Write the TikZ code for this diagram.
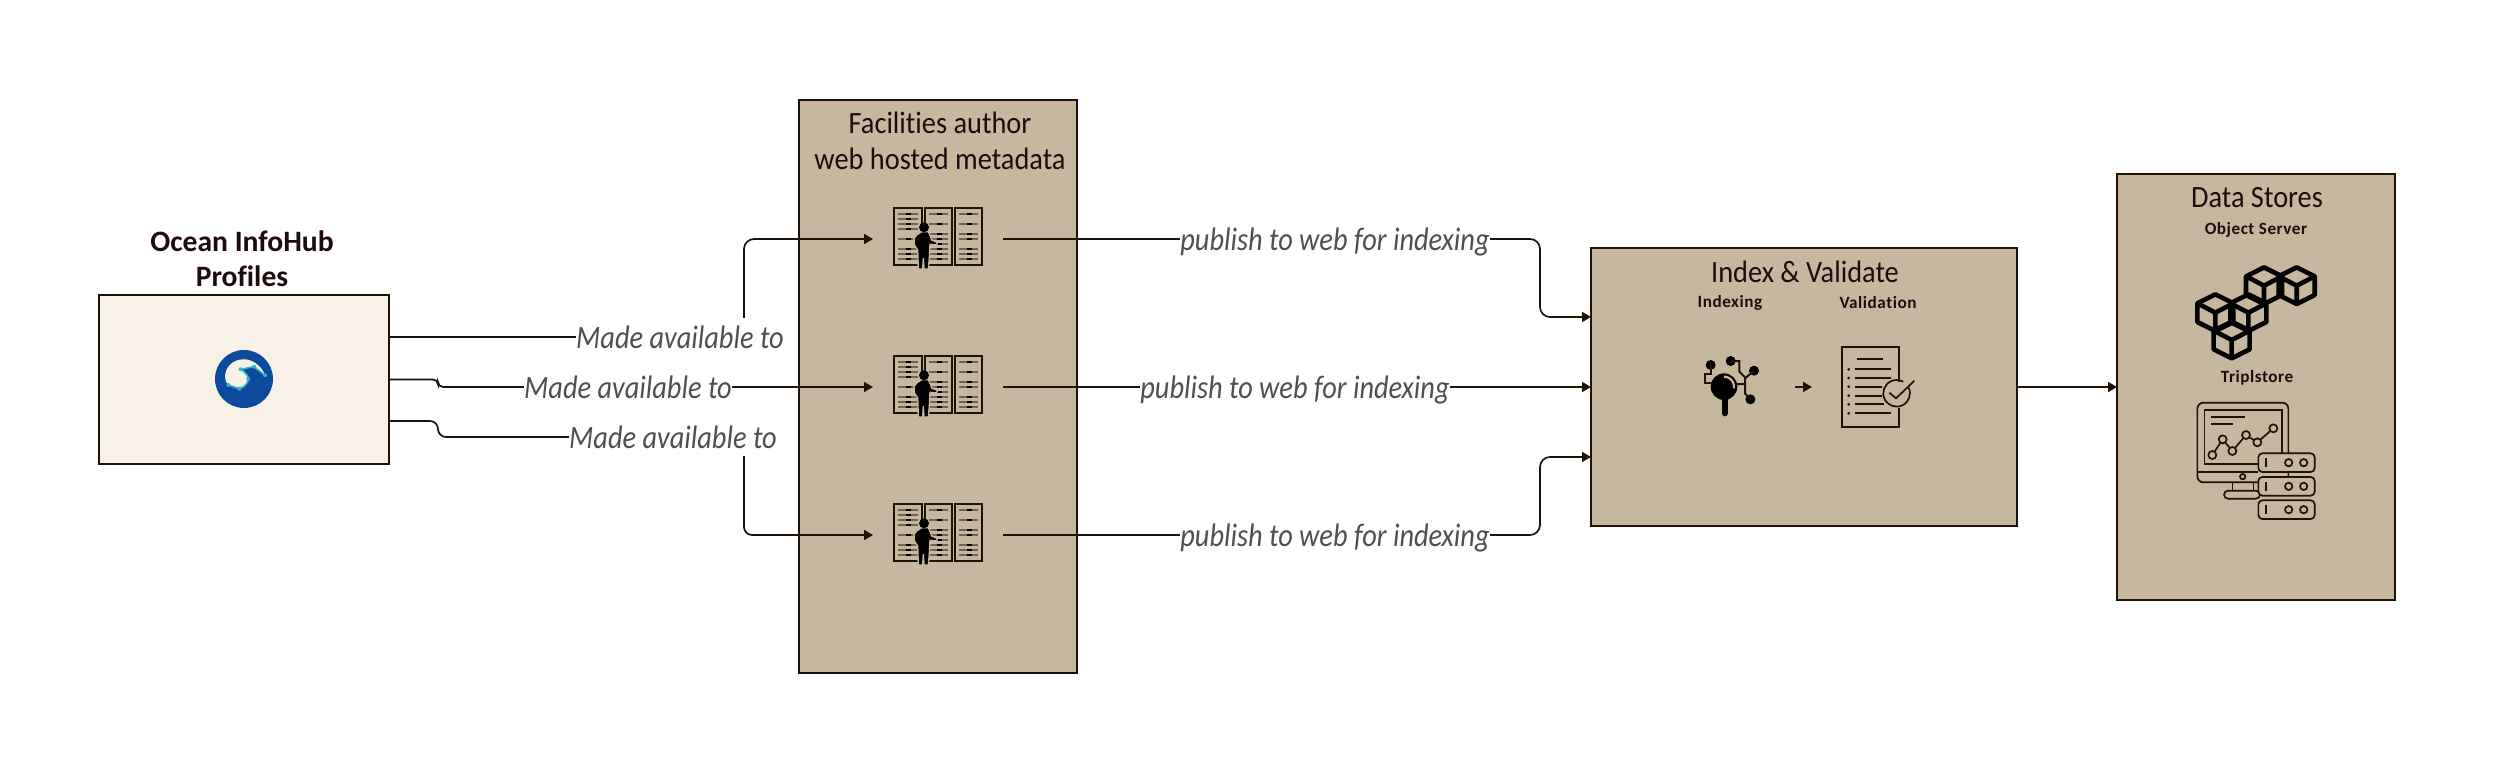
\documentclass[tikz,border=0pt]{standalone}
\usepackage{fontspec}
\setmainfont{Carlito}[Ligatures=NoCommon]
\usetikzlibrary{arrows.meta,calc}
\definecolor{ink}{HTML}{1F1206}
\definecolor{tan}{HTML}{C8B79F}
\definecolor{cream}{HTML}{F8F1E7}
\definecolor{labelgray}{HTML}{4F4F4F}
\definecolor{txt}{HTML}{1E0C0C}
\definecolor{oceanblue}{HTML}{0D4A9B}
\definecolor{oceanteal}{HTML}{2FB5C8}
\definecolor{rowgray}{HTML}{6F6556}
\newfontfamily\boldtrack[LetterSpace=3,Ligatures=NoCommon]{Carlito Bold}
\newfontfamily\labelfont[FakeStretch=0.87,Ligatures=NoCommon]{Carlito}
\newfontfamily\titlefont[FakeStretch=0.915,Ligatures=NoCommon]{Carlito}
\tikzset{
  box/.style={draw=ink,line width=1pt,fill=tan,inner sep=0pt,outer sep=0pt},
  edge/.style={draw=ink,line width=0.85pt,rounded corners=5pt,-{Triangle[length=4.5pt,width=5pt]}},
  edgelabel/.style={fill=white,inner sep=0pt,text height=15.25pt,text depth=3.75pt,text=labelgray,font=\fontsize{16.3}{18}\labelfont\itshape},
  boxtitle/.style={inner sep=0pt,text=txt,font=\fontsize{15.5}{18}\titlefont,align=center},
  subtitle/.style={inner sep=0pt,text=txt,font=\fontsize{8.6}{11}\boldtrack},
  iconslot/.style={inner sep=0pt,outer sep=0pt},
  icon/.style={draw=ink,line width=0.85pt},
  rackicon/.pic={
    \begin{scope}[x=0.16667pt,y=-0.16667pt,shift={(-174,-132)}]
      \foreach \a/\b/\rows in {42/125/{57,72,87,102,132,162,177,192},135/215/{57,87,117,132,147,162,177,192},225/305/{57,87,117,132,162,177,192}}{
        \draw[draw=ink,line width=0.85pt] (\a,40) rectangle (\b,210);
        \foreach \r in \rows {
          \draw[rowgray,line width=1.1pt] (\a+12,\r) -- (\b-10,\r);
          \draw[black,line width=1.2pt] (\a+36,\r) -- (\a+50,\r);
        }
      }
      \draw[fill=black,draw=tan,line width=0.7pt,line join=round]
        (110,120) -- (125,110) -- (145,110) -- (152,125) -- (155,135) -- (172,142) -- (170,150) -- (150,148) -- (148,190) -- (145,222) -- (132,222) -- (130,190) -- (128,222) -- (115,222) -- (113,165) -- (103,150) -- (102,130) -- cycle;
      \fill[black] (132,97) circle[radius=15];
    \end{scope}
  }
}
\newcommand{\cubeicon}[2]{%
  \draw[black,line width=2.3pt,line join=round] (#1,#2-55) -- (#1+54,#2-28) -- (#1+54,#2+28) -- (#1,#2+55) -- (#1-54,#2+28) -- (#1-54,#2-28) -- cycle
    (#1-54,#2-28) -- (#1,#2) -- (#1+54,#2-28) (#1,#2) -- (#1,#2+55);}
\begin{document}
\begin{tikzpicture}[x=0.5pt,y=-0.5pt]
\useasboundingbox (0,0) rectangle (2495,774);
\fill[white] (0,0) rectangle (2495,774);

% boxes
\node[box,fill=cream,minimum width=145pt,minimum height=84.5pt] (profile) at (244,379.5) {};
\node[box,minimum width=139pt,minimum height=286.5pt] (facilities) at (938,386.5) {};
\node[box,minimum width=213pt,minimum height=139pt] (index) at (1804,387) {};
\node[box,minimum width=139pt,minimum height=213pt] (stores) at (2256,387) {};

% titles
\node[inner sep=0pt,text=txt,font=\fontsize{14.8}{17.5}\selectfont\bfseries,align=center] (profiletitle) at (242,258.5) {Ocean InfoHub\\Profiles};
\node[boxtitle] (factitle) at (940,141) {Facilities author\\web hosted metadata};
\node[boxtitle] (indextitle) at (1805,272) {Index \& Validate};
\node[boxtitle] (storetitle) at (2257,198) {Data Stores};
\node[subtitle] (indexing) at (1730,303) {Indexing};
\node[subtitle] (validation) at (1878,303) {Validation};
\node[subtitle] (objserver) at (2256,229.5) {Object Server};
\node[subtitle] (triplstore) at (2257,377.5) {Triplstore};

% slots that carry the icons
\node[iconslot,minimum width=65pt,minimum height=10pt] (srvA) at (938,239) {};
\node[iconslot,minimum width=65pt,minimum height=10pt] (srvB) at (938,387) {};
\node[iconslot,minimum width=65pt,minimum height=10pt] (srvC) at (938,535) {};
\node[iconslot,minimum width=47.5pt,minimum height=10pt] (idxicon) at (1747.5,387) {};
\node[iconslot,minimum width=50pt,minimum height=10pt] (valicon) at (1862,387) {};

% connectors
\coordinate (pa) at ($(profile.east)+(0,-42.5)$);
\coordinate (pc) at ($(profile.east)+(0,41.5)$);
\coordinate (ia) at ($(index.west)+(0,-70)$);
\coordinate (ic) at ($(index.west)+(0,70)$);
\draw[edge] (pa) -- (744,337) -- (744,239) -- (srvA.west);
\draw[edge,rounded corners=2.5pt] (profile.east) -- (438,379.5) -- (438,387) -- (srvB.west);
\draw[edge,rounded corners=4pt] (pc) -- (438,421) -- (438,437) -- (744,437) -- (744,535) -- (srvC.west);
\draw[edge] (srvA.east) -- (1540,239) -- (1540,317) -- (ia);
\draw[edge] (srvB.east) -- (index.west);
\draw[edge] (srvC.east) -- (1540,535) -- (1540,457) -- (ic);
\draw[edge] (index.east) -- (stores.west);
\draw[edge] (idxicon.east) -- (valicon.west);

% edge labels
\node[edgelabel] (la) at (680,337) {Made available to};
\node[edgelabel] (lb) at (628,387) {Made available to};
\node[edgelabel] (lc) at (673,437) {Made available to};
\node[edgelabel] (ld) at (1335,239) {publish to web for indexing};
\node[edgelabel] (le) at (1295,387) {publish to web for indexing};
\node[edgelabel] (lf) at (1335,535) {publish to web for indexing};

% rack icons
\pic at (srvA) {rackicon};
\pic at (srvB) {rackicon};
\pic at (srvC) {rackicon};

% ocean logo
\fill[oceanblue] (244,379) circle[radius=29];
\fill[cream] (265,375.3) .. controls (262,366) and (252,359) .. (243.3,359.3) .. controls (232,359.5) and (225,368) .. (225,376.7) .. controls (225,380) and (226,383) .. (228.3,385) -- (239.3,388.7) .. controls (245,387) and (248,383) .. (248.3,379) .. controls (248,375) and (245,372) .. (240.7,369.3) -- (254,366.7) -- cycle;
\draw[oceanteal,line width=0.8pt] (228.3,385) -- (239.3,388.7) .. controls (245,387) and (248,383) .. (248.3,379) .. controls (248,375) and (245,372) .. (240.7,369.3) -- (254,366.7) -- (265,375.3);
\foreach \p in {(265,375.3),(254,366.7),(240.7,369.3),(248.3,379),(239.3,388.7),(228.3,385)}
  \fill[oceanteal] \p circle[radius=2];

% index + validation icons
\begin{scope}[shift={(1580,240)},x=0.16667pt,y=-0.16667pt]
  \fill[black] (432,440) circle[radius=40];
  \draw[tan,line width=1.1pt] (432,410) arc[start angle=-90,end angle=10,radius=30];
  \draw[black,line width=3pt,line cap=round] (434,480) -- (434,520);
  \foreach \c in {(392,375),(452,363),(522,392),(511,478)} \fill[black] \c circle[radius=15];
  \draw[ink,line width=1pt] (392,375) -- (392,402) -- (376,402) -- (376,428) -- (398,428);
  \draw[ink,line width=1pt] (452,363) -- (478,363) -- (478,395) -- (495,412) -- (495,432) -- (468,432);
  \draw[ink,line width=1pt] (522,392) -- (495,415);
  \draw[ink,line width=1pt] (511,478) -- (495,460) -- (495,432);
  % document
  \draw[icon] (957,425) -- (957,320) -- (785,320) -- (785,562) -- (957,562) -- (957,505);
  \draw[icon] (832,356) -- (908,356);
  \foreach \yy/\xe in {388/932,414/932,440/905,467/905,493/912,520/932}{
    \draw[icon] (825,\yy) -- (\xe,\yy);
    \fill[ink] (806,\yy) circle[radius=4.5];
  }
  \draw[icon] (986,443) arc[start angle=-25,end angle=300,radius=40];
  \draw[icon] (928,458) -- (948,475) -- (1003,422);
\end{scope}

% data store icons
\begin{scope}[shift={(2110,170)},x=0.16667pt,y=-0.16667pt]
  \cubeicon{462}{347}
  \cubeicon{560}{347}
  \cubeicon{316}{428}
  \cubeicon{415}{428}
  \cubeicon{365}{510}
  \draw[icon,rounded corners=3pt] (262,698) rectangle (535,937);
  \draw[icon] (283,720) rectangle (515,883);
  \draw[icon] (262,905) -- (445,905);
  \draw[icon] (367,937) -- (367,962) (430,937) -- (430,962);
  \draw[icon,rounded corners=2pt] (342,962) -- (450,962) -- (450,986) -- (342,986) -- cycle;
  \draw[icon] (398,920) circle[radius=8];
  \draw[icon] (303,742) -- (405,742) (303,763) -- (368,763);
  \draw[icon] (307,855) -- (338,808) -- (367,843) -- (408,795) -- (442,817) -- (490,775);
  \foreach \c in {(307,855),(338,808),(367,843),(408,795),(442,817),(490,775)}
    \draw[icon,fill=tan] \c circle[radius=12];
  \foreach \yy in {878,949,1019}{
    \draw[icon,fill=tan,rounded corners=2pt] (445,\yy-28) rectangle (614,\yy+28);
    \draw[icon] (468,\yy-13) -- (468,\yy+13);
    \draw[icon] (536,\yy) circle[radius=11] (581,\yy) circle[radius=11];
  }
\end{scope}
\end{tikzpicture}
\end{document}
